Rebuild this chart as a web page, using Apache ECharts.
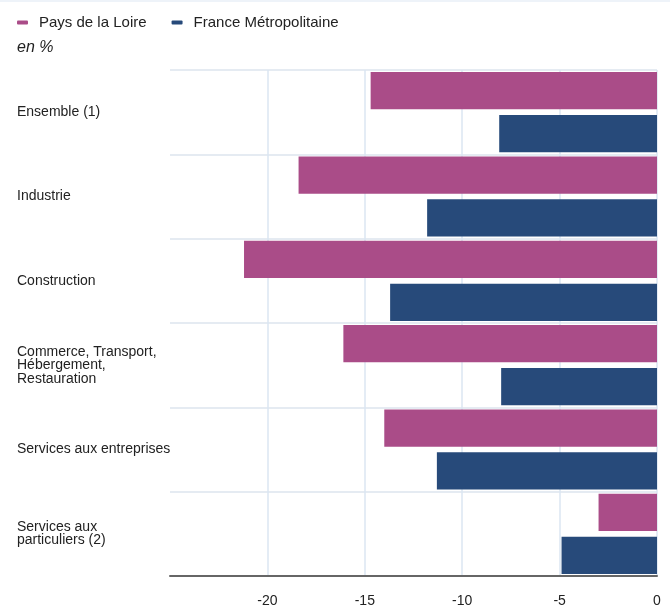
<!DOCTYPE html>
<html>
<head>
<meta charset="utf-8">
<script src="https://cdn.jsdelivr.net/npm/echarts@6/dist/echarts.min.js"></script>
<style>
    html, body { margin: 0; padding: 0; background: #fff; }
    #chart { width: 670px; height: 605px; }
</style>
</head>
<body>
<div id="chart"></div>
<script>
const categories = [
    "Ensemble (1)",
    "Industrie",
    "Construction",
    "Commerce, Transport,\nHébergement,\nRestauration",
    "Services aux entreprises",
    "Services aux\nparticuliers (2)",
];
const paysDeLaLoire = [-14.7, -18.4, -21.2, -16.1, -14.0, -3.0];
const franceMetro = [-8.1, -11.8, -13.7, -8.0, -11.3, -4.9];
const seriesNames = ["Pays de la Loire", "France Métropolitaine"];

const font = "'Liberation Sans', Arial, sans-serif";
const chart = echarts.init(document.getElementById("chart"));

chart.setOption({
    animation: false,
    textStyle: { fontFamily: font },
    legend: {
        left: 12,
        top: 10,
        itemWidth: 11,
        itemHeight: 4,
        itemGap: 25,
        icon: "roundRect",
        textStyle: { fontSize: 15, color: "#222", padding: [0, 0, 0, 6] },
        data: seriesNames,
    },
    graphic: [
        {
            type: "rect",
            shape: { x: 0, y: 0, width: 670, height: 2 },
            style: { fill: "#eef3f9" },
        },
        {
            type: "text",
            left: 17,
            top: 40,
            style: { text: "en %", font: "italic 16px " + font, fill: "#222" },
        },
    ],
    grid: { left: 170, right: 13, top: 70, bottom: 29, outerBoundsMode: "none" },
    xAxis: {
        type: "value",
        min: -25,
        max: 0,
        interval: 5,
        axisLine: { show: true, onZero: false, lineStyle: { color: "#666", width: 2 } },
        axisTick: { show: false },
        axisLabel: { showMinLabel: false, fontSize: 14, color: "#222", margin: 18 },
        splitLine: { showMinLine: false, lineStyle: { color: "#dbe6f2", width: 1.5 } },
    },
    yAxis: {
        type: "category",
        inverse: true,
        position: "left",
        data: categories,
        axisLine: { onZero: false, show: false },
        axisTick: { show: false },
        axisLabel: {
            align: "left",
            margin: 153,
            fontSize: 14,
            lineHeight: 13.5,
            padding: [4, 0, 0, 0],
            color: "#222",
        },
        splitLine: { show: true, lineStyle: { color: "#dde5ee", width: 1.5 } },
    },
    series: [
        {
            name: seriesNames[0],
            type: "bar",
            data: paysDeLaLoire,
            barGap: "15%",
            barCategoryGap: "5%",
            itemStyle: { color: "#aa4c88" },
        },
        {
            name: seriesNames[1],
            type: "bar",
            data: franceMetro,
            itemStyle: { color: "#274a7a" },
        },
    ],
});
</script>
</body>
</html>
